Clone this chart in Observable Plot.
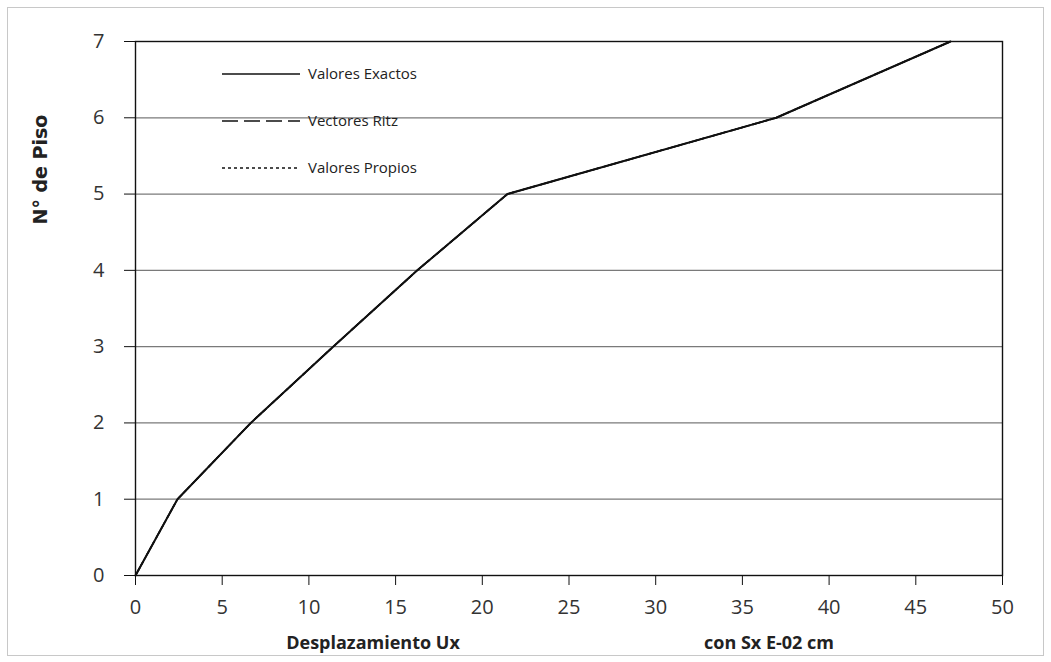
<!DOCTYPE html>
<html>
<head>
<meta charset="utf-8">
<script src="https://cdn.jsdelivr.net/npm/d3@7"></script>
<script src="https://cdn.jsdelivr.net/npm/@observablehq/plot@0.6"></script>
<style>
  html, body { margin: 0; padding: 0; background: #fff; }
  #chart { width: 1051px; height: 662px; }
</style>
</head>
<body>
<div id="chart"></div>
<script>
// ---- data ----
const floors = [0, 1, 2, 3, 4, 5, 6, 7];
const valoresExactos = [0, 2.42, 6.65, 11.4, 16.25, 21.45, 36.95, 47.0];
const vectoresRitz   = [0, 2.42, 6.65, 11.4, 16.25, 21.45, 36.95, 47.0];
const valoresPropios = [0, 2.42, 6.65, 11.4, 16.25, 21.45, 36.95, 47.0];
const seriesNames = ["Valores Exactos", "Vectores Ritz", "Valores Propios"];
const xTicks = [0, 5, 10, 15, 20, 25, 30, 35, 40, 45, 50];
const yTicks = [0, 1, 2, 3, 4, 5, 6, 7];
const gridFloors = [1, 2, 3, 4, 5, 6];
const yTitle = "N° de Piso";
const xTitleA = "Desplazamiento Ux";
const xTitleB = "con Sx E-02 cm";

const seriesValues = [valoresExactos, vectoresRitz, valoresPropios];
const dashes = [null, "16,6", "3,3"];
const rows = seriesNames.flatMap((s, i) =>
  floors.map((f, j) => ({serie: s, piso: f, ux: seriesValues[i][j]})));

const tickFont = "Open Sans, DejaVu Sans, sans-serif";

const plot = Plot.plot({
  width: 1051,
  height: 662,
  marginLeft: 135,
  marginRight: 49,
  marginTop: 41,
  marginBottom: 87,
  style: {fontFamily: tickFont, fontSize: "20px", color: "#333", background: "#fff"},
  x: {domain: [0, 50], ticks: xTicks, label: null},
  y: {domain: [0, 7], ticks: yTicks, label: null},
  marks: [
    Plot.ruleY(gridFloors, {stroke: "#7a7a7a", strokeWidth: 1.2}),
    Plot.frame({stroke: "#111", strokeWidth: 1.4}),
    Plot.axisX({ticks: xTicks, tickFormat: d3.format("d"), tickSize: 10, tickPadding: 14, stroke: "#111", fill: "#333", fontSize: 20}),
    Plot.axisY({ticks: yTicks, tickFormat: d3.format("d"), tickSize: 11, tickPadding: 20, stroke: "#111", fill: "#333", fontSize: 20}),
    ...seriesNames.map((s, i) => Plot.line(rows.filter(d => d.serie === s), {
      x: "ux", y: "piso", stroke: "#111", strokeWidth: i === 0 ? 2 : 1.6,
      strokeDasharray: dashes[i]
    })),
    Plot.text([yTitle], {frameAnchor: "left", dx: -95, dy: -84, rotate: -90,
      fontWeight: "bold", fontSize: 19, fill: "#222", fontFamily: "DejaVu Sans, sans-serif"}),
    Plot.text([xTitleA], {frameAnchor: "bottom", dx: -196, dy: 73,
      fontWeight: "bold", fontSize: 18, fill: "#222", fontFamily: "Open Sans, sans-serif"}),
    Plot.text([xTitleB], {frameAnchor: "bottom", dx: 200, dy: 73,
      fontWeight: "bold", fontSize: 18, fill: "#222", fontFamily: "Open Sans, sans-serif"})
  ]
});

// outer light border
const svg = d3.select(plot);
svg.insert("rect", ":first-child")
  .attr("x", 7.5).attr("y", 7.5).attr("width", 1036).attr("height", 648)
  .attr("fill", "#fff").attr("stroke", "#c8c8c8").attr("stroke-width", 1);

// legend inside plot
const legend = svg.append("g").attr("font-family", "Liberation Sans Narrow, Open Sans, sans-serif")
  .attr("font-size", 15).attr("fill", "#222").attr("text-anchor", "start");
seriesNames.forEach((s, i) => {
  const y = 74 + i * 47;
  legend.append("line").attr("x1", 222).attr("x2", 300).attr("y1", y).attr("y2", y)
    .attr("stroke", "#111").attr("stroke-width", 1.6)
    .attr("stroke-dasharray", dashes[i]);
  legend.append("text").attr("x", 308).attr("y", y).attr("dy", "0.35em")
    .attr("text-anchor", "start").text(s);
});

document.getElementById("chart").appendChild(plot);
</script>
</body>
</html>
